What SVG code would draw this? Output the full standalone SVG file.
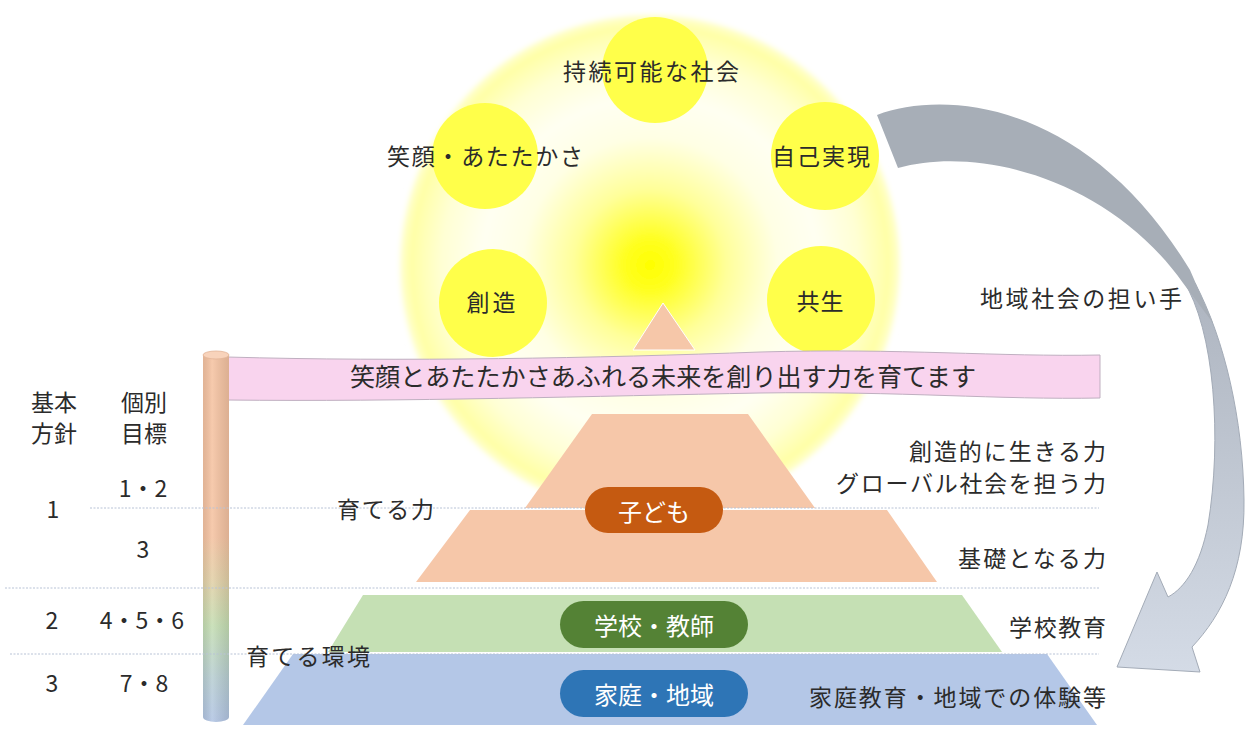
<svg xmlns="http://www.w3.org/2000/svg" width="1247" height="731" viewBox="0 0 1247 731">
<defs>
  <radialGradient id="glow" cx="650" cy="265" r="254" gradientUnits="userSpaceOnUse">
    <stop offset="0" stop-color="#FFFF00"/>
    <stop offset="0.1" stop-color="#FFFF20"/>
    <stop offset="0.3" stop-color="#FFFF9A"/>
    <stop offset="0.5" stop-color="#FFFFE4"/>
    <stop offset="0.66" stop-color="#FFFFF2"/>
    <stop offset="0.82" stop-color="#FFFFD4"/>
    <stop offset="0.94" stop-color="#FFFFA6"/>
    <stop offset="0.975" stop-color="#FFFFC8"/>
    <stop offset="1" stop-color="#FFFFFF" stop-opacity="0"/>
  </radialGradient>
  <filter id="soft" x="-10%" y="-10%" width="120%" height="120%">
    <feGaussianBlur stdDeviation="2"/>
  </filter>
  <linearGradient id="pole" x1="0" y1="352" x2="0" y2="722" gradientUnits="userSpaceOnUse">
    <stop offset="0" stop-color="#F5C3A2"/>
    <stop offset="0.5" stop-color="#F5C3A2"/>
    <stop offset="0.62" stop-color="#E2D1A8"/>
    <stop offset="0.74" stop-color="#C5DEB3"/>
    <stop offset="0.88" stop-color="#B9CFD3"/>
    <stop offset="1" stop-color="#B2C5E4"/>
  </linearGradient>
  <linearGradient id="poleShade" x1="203" y1="0" x2="229" y2="0" gradientUnits="userSpaceOnUse">
    <stop offset="0" stop-color="#000" stop-opacity="0.08"/>
    <stop offset="0.35" stop-color="#FFF" stop-opacity="0.12"/>
    <stop offset="1" stop-color="#000" stop-opacity="0.1"/>
  </linearGradient>
  <linearGradient id="arrowLight" x1="0" y1="280" x2="0" y2="672" gradientUnits="userSpaceOnUse">
    <stop offset="0" stop-color="#ADB4BF"/>
    <stop offset="1" stop-color="#D4DBE6"/>
  </linearGradient>
  <style>
    text { font-family: "Noto Sans CJK JP", "Noto Sans CJK SC", sans-serif; fill: #2B2B2B; }
    .lbl { font-size: 23px; dominant-baseline: central; }
    .ctr { text-anchor: middle; }
    .end { text-anchor: end; }
    .pilltxt { font-size: 24px; fill: #FFFFFF; text-anchor: middle; dominant-baseline: central; }
    .small { fill: #FFFF4A; }
    .peach { fill: #F6C7A9; }
    .sep { stroke: #B8C3D6; stroke-width: 1; stroke-dasharray: 2 1.5; fill: none; }
  </style>
</defs>

<g id="sun">
  <circle cx="650" cy="264" r="254" fill="url(#glow)" filter="url(#soft)"/>
</g>

<g id="values">
  <g id="v-sustain"><circle class="small" cx="655" cy="70" r="53"/><text class="lbl ctr" x="651" y="70" textLength="176">持続可能な社会</text></g>
  <g id="v-smile"><circle class="small" cx="485" cy="156" r="53"/><text class="lbl ctr" x="485" y="155" textLength="196">笑顔・あたたかさ</text></g>
  <g id="v-self"><circle class="small" cx="825" cy="156" r="54"/><text class="lbl ctr" x="821" y="155" textLength="98">自己実現</text></g>
  <g id="v-create"><circle class="small" cx="493" cy="303" r="54"/><text class="lbl ctr" x="491" y="301" textLength="49">創造</text></g>
  <g id="v-coexist"><circle class="small" cx="821" cy="300" r="54"/><text class="lbl ctr" x="820" y="300" textLength="47">共生</text></g>
</g>

<g id="connectors">
  <path id="arrow-lower" d="M1183,280 C1215,330 1222,440 1208,525 C1200,565 1185,588 1168,597 L1157,572 L1117,667 L1200,672 L1192,647 C1222,615 1245,570 1244,500 C1243,420 1225,340 1195,283 Z" fill="url(#arrowLight)" stroke="#A3ABB7" stroke-width="1"/>
  <path id="arrow-upper" d="M877,115 C950,88 1090,105 1190,270 L1213,323 L1183,283 C1110,180 980,145 898,168 Z" fill="#A7AEB7"/>
</g>

<g id="label-community"><text class="lbl end" x="1182" y="297" textLength="202">地域社会の担い手</text></g>

<g id="peak">
  <polygon class="peach" points="663,303 633,350 695,350" stroke="#FFFFFF" stroke-width="1"/>
</g>

<g id="banner">
  <path d="M227,357 C400,362 600,358 760,352 C900,348 1000,357 1100,355 L1100,398 C1000,400 900,391 760,393 C600,396 400,402 227,400 Z" fill="#F9D4EE" stroke="#BFAFC0" stroke-width="1"/>
  <text x="663" y="375" font-size="25" text-anchor="middle" dominant-baseline="central" textLength="626" lengthAdjust="spacingAndGlyphs" fill="#1A1A1A">笑顔とあたたかさあふれる未来を創り出す力を育てます</text>
</g>

<g id="flagpole">
  <path d="M203,355 L203,717 A13,5 0 0 0 229,717 L229,355 Z" fill="url(#pole)"/>
  <path d="M203,355 L203,717 A13,5 0 0 0 229,717 L229,355 Z" fill="url(#poleShade)"/>
  <ellipse cx="216" cy="355" rx="13" ry="4" fill="#F8D3BB" stroke="#E2B497" stroke-width="0.8"/>
</g>

<g id="pyramid">
  <polygon id="tier-creative" class="peach" points="592,414 748,414 815,508 525,508"/>
  <polygon id="tier-basic" class="peach" points="470,510 887,510 937,582 416,582"/>
  <polygon id="tier-school" points="363,595 962,595 1002,652 328,652" fill="#C5E0B4"/>
  <polygon id="tier-home" points="293,654 1047,654 1097,725 243,725" fill="#B4C7E7"/>
</g>

<g id="separators">
  <line class="sep" x1="90" y1="508" x2="1099" y2="508"/>
  <line class="sep" x1="5" y1="588" x2="1099" y2="588"/>
  <line class="sep" x1="10" y1="654" x2="1099" y2="654" stroke="#98A4B6"/>
</g>

<g id="pill-child">
  <rect x="585" y="487" width="138" height="46" rx="23" fill="#C55A11"/>
  <text class="pilltxt" x="654" y="510">子ども</text>
</g>
<g id="pill-school">
  <rect x="560" y="601" width="188" height="47" rx="23.5" fill="#548235"/>
  <text class="pilltxt" x="654" y="624">学校・教師</text>
</g>
<g id="pill-home">
  <rect x="560" y="670" width="188" height="47" rx="23.5" fill="#2E75B6"/>
  <text class="pilltxt" x="654" y="693">家庭・地域</text>
</g>

<g id="right-labels">
  <text class="lbl end" x="1106" y="450" font-size="21" textLength="197">創造的に生きる力</text>
  <text class="lbl end" x="1106" y="482" font-size="21" textLength="270">グローバル社会を担う力</text>
  <text class="lbl end" x="1106" y="557" textLength="148">基礎となる力</text>
  <text class="lbl end" x="1106" y="626" textLength="97">学校教育</text>
  <text class="lbl end" x="1106" y="696" textLength="297">家庭教育・地域での体験等</text>
</g>

<g id="mid-labels">
  <text class="lbl" x="337" y="508" textLength="97">育てる力</text>
  <text class="lbl" x="246" y="655" textLength="124">育てる環境</text>
</g>

<g id="left-table">
  <text class="lbl ctr" x="54" y="401">基本</text>
  <text class="lbl ctr" x="54" y="432">方針</text>
  <text class="lbl ctr" x="144" y="401">個別</text>
  <text class="lbl ctr" x="144" y="432">目標</text>
  <text class="lbl ctr" x="143" y="487">1・2</text>
  <text class="lbl ctr" x="53" y="508">1</text>
  <text class="lbl ctr" x="143" y="548">3</text>
  <text class="lbl ctr" x="52" y="619">2</text>
  <text class="lbl ctr" x="142" y="619">4・5・6</text>
  <text class="lbl ctr" x="52" y="682">3</text>
  <text class="lbl ctr" x="144" y="682">7・8</text>
</g>
</svg>
